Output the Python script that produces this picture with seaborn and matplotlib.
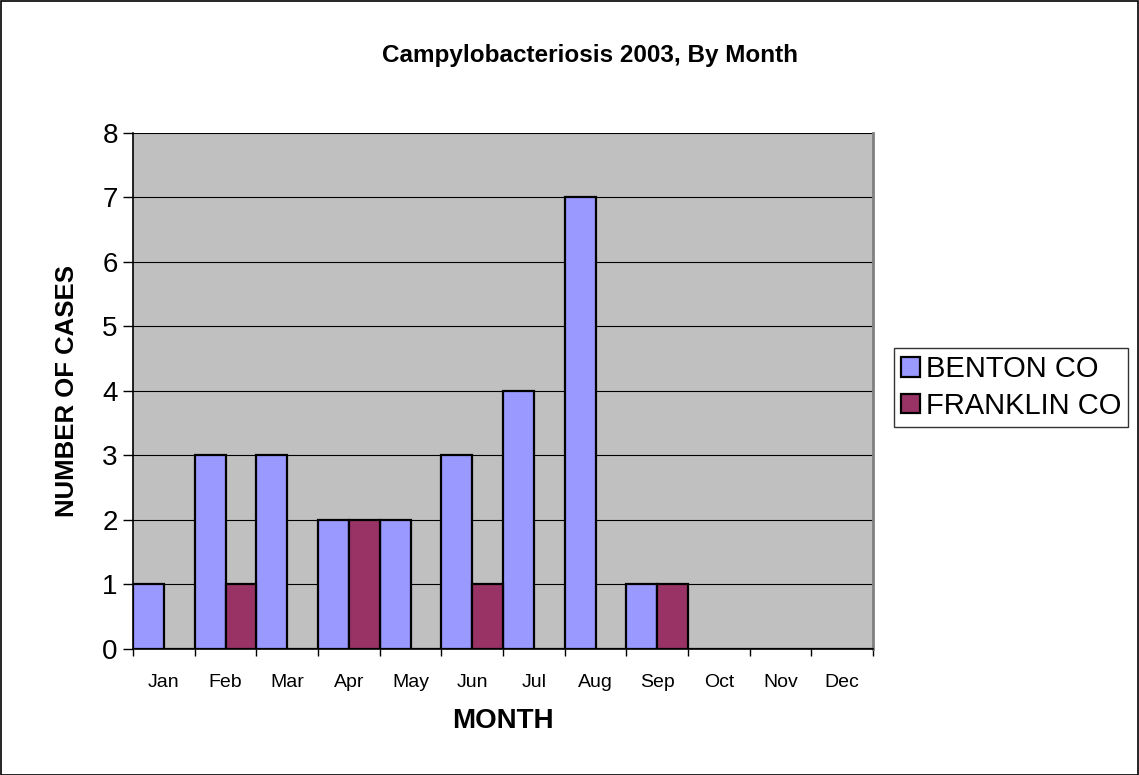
"""Campylobacteriosis 2003 cases by month, Benton vs Franklin county."""

import numpy as np
import pandas as pd
import matplotlib
matplotlib.use("Agg")
import matplotlib.pyplot as plt
import seaborn as sns
from matplotlib.patches import Rectangle

months = ["Jan", "Feb", "Mar", "Apr", "May", "Jun",
          "Jul", "Aug", "Sep", "Oct", "Nov", "Dec"]
benton = [1, 3, 3, 2, 2, 3, 4, 7, 1, 0, 0, 0]
franklin = [0, 1, 0, 2, 0, 1, 0, 0, 1, 0, 0, 0]
counties = ["BENTON CO", "FRANKLIN CO"]
colors = ["#9999FF", "#993366"]

df = pd.DataFrame({
    "month": months * 2,
    "cases": benton + franklin,
    "county": [counties[0]] * len(months) + [counties[1]] * len(months),
})

sns.set_style("white")
plt.rcParams["font.family"] = ["Liberation Sans", "DejaVu Sans"]
plt.rcParams["text.color"] = "black"
plt.rcParams["axes.labelcolor"] = "black"
plt.rcParams["xtick.color"] = "black"
plt.rcParams["ytick.color"] = "black"

fig = plt.figure(figsize=(11.39, 7.75), dpi=100)
ax = fig.add_axes([0.1168, 0.1626, 0.6497, 0.6658])
ax.set_facecolor("#C0C0C0")

sns.barplot(data=df, x="month", y="cases", hue="county", order=months,
            hue_order=counties, palette=colors, width=1.0, gap=0,
            edgecolor="black", linewidth=1.6, saturation=1, ax=ax, zorder=3)

ax.set_xlim(-0.5, 11.5)
ax.set_ylim(0, 8)
ax.set_yticks(range(0, 9))
ax.yaxis.grid(True, color="black", linewidth=0.8, zorder=1)
ax.set_axisbelow(True)

# Excel style: tick marks between categories, labels centred
ax.set_xticks(np.arange(len(months)))
ax.set_xticklabels(months, fontsize=14)
ax.set_xticks(np.arange(-0.5, len(months)), minor=True)
ax.tick_params(axis="x", which="major", length=0, pad=18)
ax.tick_params(axis="x", which="minor", length=5, width=1, color="black",
               direction="out")
ax.tick_params(axis="y", length=7, width=1, color="black", direction="out",
               labelsize=20, pad=4)
ax.tick_params(left=True, bottom=True, which="both")

for side in ["left", "bottom"]:
    ax.spines[side].set_color("black")
    ax.spines[side].set_linewidth(1.2)
ax.spines["top"].set_visible(False)
ax.spines["right"].set_color("#808080")
ax.spines["right"].set_linewidth(2)

ax.set_xlabel("MONTH", fontsize=20, fontweight="bold", labelpad=12)
ax.set_ylabel("NUMBER OF CASES", fontsize=18.5, fontweight="bold",
              labelpad=17)
fig.text(0.518, 0.929, "Campylobacteriosis 2003, By Month",
         ha="center", va="center", fontsize=17.5, fontweight="bold")

leg = ax.legend(loc="center left", bbox_to_anchor=(0.7845, 0.5),
                bbox_transform=fig.transFigure, fontsize=21, frameon=True,
                fancybox=False, edgecolor="black", handlelength=0.65,
                handleheight=0.65, handletextpad=0.2, borderpad=0.25,
                labelspacing=0.3, borderaxespad=0)
leg.get_frame().set_linewidth(1)

fig.patches.append(Rectangle((0.0005, 0.0005), 0.999, 0.998,
                             transform=fig.transFigure, fill=False,
                             edgecolor="black", linewidth=1.2))

fig.savefig("out.png", dpi=100)
plt.close(fig)
